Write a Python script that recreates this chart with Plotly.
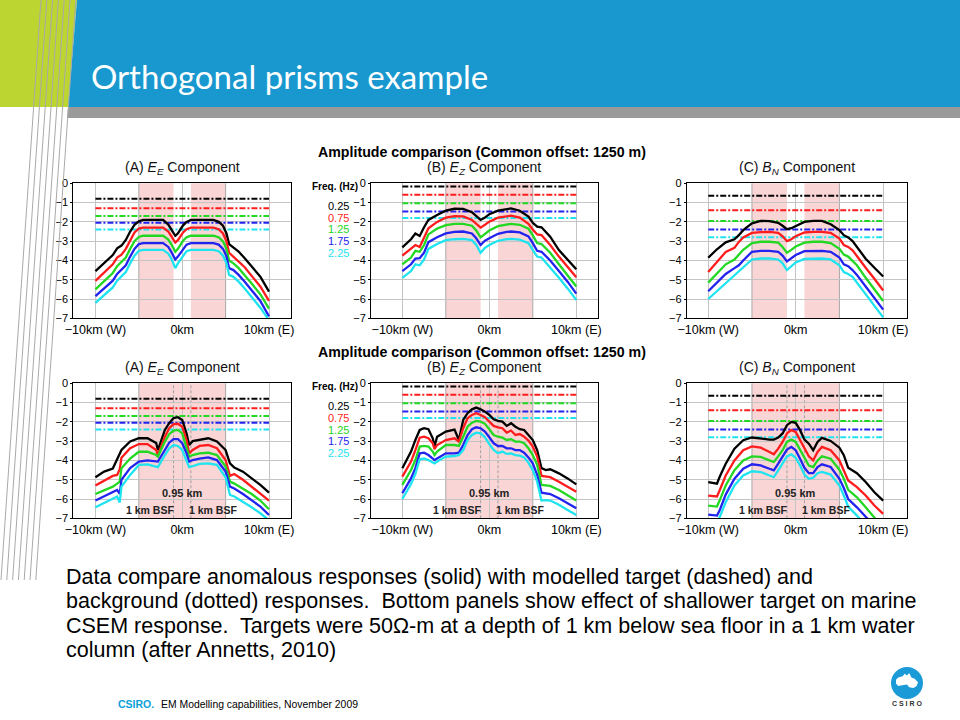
import plotly.graph_objects as go

W, H = 960, 720
FONT = "Liberation Sans, Arial, sans-serif"

FREQS = ["0.25", "0.75", "1.25", "1.75", "2.25"]
COLORS = ["#000000", "#ff1c1c", "#22d822", "#2323f0", "#1ee4f0"]

X_TICKS = [-10, 0, 10]
X_TICK_TEXT = ["\u221210km (W)", "0km", "10km (E)"]
Y_TICKS = [0, -1, -2, -3, -4, -5, -6, -7]
Y_TICK_TEXT = ["0", "\u22121", "\u22122", "\u22123", "\u22124", "\u22125", "\u22126", "\u22127"]

BG_X = [-10, 10]
BG_A = [-0.8, -1.3, -1.7, -2.05, -2.4]
BG_B = [-0.17, -0.6, -1.04, -1.46, -1.8]
BG_C = [-0.65, -1.4, -1.95, -2.4, -2.8]

# ---- Top row (deep targets) ----
X_A_TOP = [-10, -9, -8, -7.5, -7, -6.5, -6, -5.5, -5, -4.5, -2.2, -1.6, -1.2, -0.8, -0.5, -0.2, 0.1, 0.5, 1.0,
           3.6, 4.2, 4.7, 5.1, 5.4, 5.9, 6.5, 7.2, 8, 9, 10]
A_TOP_BLACK = [-4.55, -4.15, -3.72, -3.37, -3.23, -2.94, -2.5, -2.15, -1.97, -1.9, -1.9, -2.14, -2.42, -2.72, -2.6,
               -2.4, -2.18, -2.0, -1.9, -1.9, -2.0, -2.2, -2.6, -3.15, -3.32, -3.54, -3.89, -4.32, -4.84, -5.62]
A_TOP_RED = [-5.06, -4.65, -4.2, -3.85, -3.7, -3.4, -2.95, -2.55, -2.35, -2.3, -2.3, -2.5, -2.78, -3.07, -2.95,
             -2.75, -2.55, -2.38, -2.3, -2.3, -2.38, -2.6, -3.0, -3.6, -3.8, -4.02, -4.35, -4.8, -5.35, -6.1]
A_TOP_GREEN = [-5.5, -5.1, -4.65, -4.3, -4.1, -3.85, -3.4, -3.0, -2.78, -2.72, -2.72, -2.92, -3.2, -3.55, -3.4,
               -3.2, -2.98, -2.8, -2.72, -2.72, -2.8, -3.02, -3.4, -4.0, -4.15, -4.4, -4.75, -5.2, -5.75, -6.5]
A_TOP_BLUE = [-5.85, -5.45, -5.05, -4.7, -4.5, -4.25, -3.8, -3.4, -3.15, -3.1, -3.1, -3.3, -3.6, -3.95, -3.8,
              -3.6, -3.38, -3.18, -3.1, -3.1, -3.18, -3.4, -3.78, -4.4, -4.5, -4.75, -5.1, -5.55, -6.1, -6.9]
A_TOP_CYAN = [-6.2, -5.8, -5.4, -5.05, -4.85, -4.6, -4.15, -3.75, -3.5, -3.45, -3.45, -3.65, -3.95, -4.4, -4.15,
              -3.95, -3.72, -3.52, -3.45, -3.45, -3.52, -3.75, -4.15, -4.75, -4.85, -5.1, -5.45, -5.9, -6.45, -7.1]

X_B_TOP = [-10, -9, -8.5, -8, -7.5, -7, -6, -5, -4, -3, -2, -1.5, -1, -0.5, 0, 1, 2, 2.5, 3.5, 4.5, 5, 5.5, 6,
           7, 8, 9, 10]
B_TOP_BLACK = [-3.32, -2.9, -2.6, -2.73, -2.28, -1.9, -1.64, -1.42, -1.32, -1.33, -1.5, -1.7, -1.9, -1.78, -1.6,
               -1.42, -1.33, -1.3, -1.42, -1.73, -2.05, -2.25, -2.28, -2.77, -3.46, -3.94, -4.46]
B_TOP_RED = [-3.75, -3.4, -3.2, -3.3, -2.77, -2.33, -2.0, -1.78, -1.7, -1.72, -1.9, -2.1, -2.3, -2.15, -1.99,
             -1.78, -1.7, -1.68, -1.78, -2.1, -2.4, -2.65, -2.68, -3.2, -3.8, -4.32, -4.87]
B_TOP_GREEN = [-4.2, -3.85, -3.5, -3.55, -3.2, -2.65, -2.35, -2.17, -2.1, -2.1, -2.2, -2.45, -2.8, -2.6, -2.45,
               -2.22, -2.12, -2.1, -2.15, -2.35, -2.7, -3.1, -3.15, -3.6, -4.2, -4.75, -5.35]
B_TOP_BLUE = [-4.55, -4.2, -3.9, -3.88, -3.6, -3.05, -2.8, -2.6, -2.52, -2.5, -2.6, -2.85, -3.2, -2.98, -2.85,
              -2.62, -2.52, -2.5, -2.55, -2.75, -3.1, -3.5, -3.55, -4.0, -4.55, -5.1, -5.72]
B_TOP_CYAN = [-4.9, -4.55, -4.2, -4.25, -3.95, -3.4, -3.15, -2.95, -2.9, -2.88, -2.95, -3.2, -3.6, -3.35, -3.2,
              -2.98, -2.9, -2.88, -2.92, -3.1, -3.45, -3.8, -3.85, -4.35, -4.9, -5.45, -6.05]

X_C_TOP = [-10, -9, -8, -7, -6.5, -6, -5, -4, -3, -2, -1.5, -1, -0.5, 0, 1, 2, 3, 4, 5, 5.5, 6, 6.5, 7, 8, 9, 10]
C_TOP_BLACK = [-3.86, -3.42, -3.06, -2.9, -2.69, -2.43, -2.08, -1.95, -1.96, -2.05, -2.2, -2.38, -2.33, -2.22,
               -2.0, -1.95, -1.95, -2.12, -2.43, -2.69, -2.81, -3.0, -3.3, -3.91, -4.38, -4.83]
C_TOP_RED = [-4.6, -4.08, -3.56, -3.35, -3.04, -2.81, -2.57, -2.53, -2.52, -2.57, -2.75, -3.0, -2.9, -2.74,
             -2.55, -2.52, -2.52, -2.57, -2.87, -3.2, -3.3, -3.47, -3.79, -4.38, -4.95, -5.56]
C_TOP_GREEN = [-5.15, -4.7, -4.2, -3.95, -3.7, -3.45, -3.1, -3.03, -3.03, -3.08, -3.3, -3.6, -3.45, -3.28,
               -3.08, -3.03, -3.03, -3.1, -3.4, -3.7, -3.8, -4.0, -4.25, -4.9, -5.5, -6.1]
C_TOP_BLUE = [-5.6, -5.15, -4.7, -4.4, -4.25, -4.0, -3.55, -3.5, -3.5, -3.55, -3.75, -4.05, -3.9, -3.72,
              -3.52, -3.5, -3.5, -3.55, -3.85, -4.2, -4.3, -4.5, -4.75, -5.35, -5.95, -6.55]
C_TOP_CYAN = [-6.0, -5.6, -5.15, -4.8, -4.6, -4.35, -3.95, -3.9, -3.9, -3.95, -4.15, -4.5, -4.3, -4.1,
              -3.92, -3.9, -3.9, -3.95, -4.25, -4.6, -4.7, -4.85, -5.15, -5.75, -6.35, -6.95]

# ---- Bottom row (shallower target) ----
X_A_BOT = [-10, -9, -8, -7.5, -7.2, -7, -6, -5, -4, -3, -2.8, -2, -1.5, -1, -0.5, 0, 0.5, 0.8, 1.2, 2, 3, 4,
           5, 5.5, 6, 7, 8, 9, 10]
A_BOT_BLACK = [-4.87, -4.58, -4.42, -3.95, -3.65, -3.46, -3.02, -2.85, -2.85, -3.1, -3.46, -2.42, -2.07, -1.8,
               -1.76, -1.9, -2.6, -3.2, -3.0, -2.95, -2.85, -3.02, -3.46, -4.15, -4.37, -4.58, -4.93, -5.27, -5.67]
A_BOT_RED = [-5.3, -5.05, -4.8, -4.75, -4.45, -3.86, -3.37, -3.15, -3.15, -3.46, -3.72, -2.77, -2.33, -2.12,
             -2.1, -2.25, -2.94, -3.63, -3.46, -3.25, -3.2, -3.37, -3.98, -4.8, -4.7, -5.0, -5.36, -5.7, -6.08]
A_BOT_GREEN = [-5.74, -5.55, -5.36, -5.2, -5.1, -4.4, -3.9, -3.55, -3.55, -3.72, -3.8, -3.02, -2.64, -2.45,
               -2.42, -2.6, -3.28, -3.8, -3.72, -3.63, -3.6, -3.72, -4.32, -5.1, -5.2, -5.45, -5.74, -6.08, -6.53]
A_BOT_BLUE = [-6.08, -5.85, -5.62, -5.53, -5.74, -5.0, -4.4, -4.06, -4.0, -4.06, -4.06, -3.46, -3.08, -2.89,
              -2.89, -3.11, -3.63, -4.06, -3.98, -3.9, -3.84, -3.98, -4.58, -5.36, -5.45, -5.74, -6.05, -6.39, -6.83]
A_BOT_CYAN = [-6.43, -6.2, -6.0, -5.87, -6.18, -5.36, -4.75, -4.23, -4.2, -4.35, -4.35, -3.72, -3.37, -3.2,
              -3.25, -3.46, -3.98, -4.35, -4.3, -4.18, -4.15, -4.23, -4.87, -5.79, -5.87, -6.13, -6.43, -6.74, -7.1]

X_B_BOT = [-10, -9, -8.5, -8, -7.5, -7, -6.5, -6.3, -6, -5, -4, -3.5, -3, -2.5, -2, -1.5, -1, -0.5, 0, 0.5,
           1, 1.5, 2, 2.5, 3, 3.5, 4, 4.5, 5, 5.5, 6, 6.5, 7, 8, 9, 10]
B_BOT_BLACK = [-4.4, -3.54, -2.94, -2.42, -2.33, -2.38, -2.85, -3.28, -2.77, -2.5, -2.4, -2.94, -1.9, -1.55,
               -1.35, -1.26, -1.35, -1.47, -1.64, -1.87, -1.95, -1.99, -2.21, -2.07, -2.25, -2.38, -2.42, -2.68,
               -2.94, -3.46, -4.4, -4.5, -4.46, -4.67, -4.93, -5.24]
B_BOT_RED = [-4.84, -4.06, -3.46, -2.82, -2.77, -2.85, -3.11, -3.42, -3.2, -2.94, -2.85, -3.02, -2.33, -1.81,
             -1.64, -1.55, -1.64, -1.76, -1.99, -2.21, -2.28, -2.33, -2.56, -2.45, -2.68, -2.63, -2.77, -2.97,
             -3.28, -3.8, -4.8, -4.84, -4.87, -5.1, -5.36, -5.62]
B_BOT_GREEN = [-5.27, -4.5, -3.98, -3.28, -3.25, -3.28, -3.54, -3.72, -3.54, -3.2, -3.2, -3.25, -2.77, -2.25,
               -2.04, -1.95, -1.99, -2.1, -2.38, -2.68, -2.77, -2.82, -2.94, -2.9, -3.02, -3.02, -3.11, -3.37,
               -3.72, -4.23, -5.27, -5.3, -5.32, -5.53, -5.79, -6.08]
B_BOT_BLUE = [-5.7, -4.93, -4.4, -3.63, -3.6, -3.72, -3.9, -3.98, -3.9, -3.63, -3.63, -3.6, -3.2, -2.68,
              -2.38, -2.28, -2.33, -2.5, -2.8, -3.11, -3.25, -3.25, -3.37, -3.37, -3.46, -3.46, -3.6, -3.84,
              -4.15, -4.75, -5.67, -5.7, -5.74, -5.96, -6.22, -6.48]
B_BOT_CYAN = [-6.0, -5.22, -4.7, -3.94, -3.9, -3.98, -4.11, -4.15, -4.06, -3.8, -3.77, -3.72, -3.46, -2.94,
              -2.68, -2.56, -2.6, -2.8, -3.15, -3.46, -3.63, -3.54, -3.66, -3.64, -3.72, -3.75, -3.84, -4.11,
              -4.5, -5.1, -6.08, -6.06, -6.08, -6.3, -6.57, -6.83]

X_C_BOT = [-10, -9, -8.7, -8, -7, -6, -5, -4, -3, -2.5, -2, -1.5, -1, -0.5, 0, 0.5, 1, 1.5, 2, 2.5, 3, 4, 5,
           5.5, 6, 7, 8, 9, 10]
C_BOT_BLACK = [-5.12, -5.2, -4.86, -4.17, -3.39, -2.95, -2.81, -2.87, -2.92, -2.92, -2.81, -2.6, -2.17, -2.0,
               -2.05, -2.43, -2.92, -3.13, -3.47, -3.04, -2.83, -2.99, -3.34, -3.73, -4.38, -4.66, -5.12, -5.65, -6.08]
C_BOT_RED = [-5.82, -5.87, -5.56, -4.78, -4.0, -3.47, -3.27, -3.34, -3.56, -3.68, -3.39, -3.04, -2.6, -2.43,
             -2.52, -2.92, -3.39, -3.79, -4.0, -3.56, -3.3, -3.47, -4.0, -4.5, -5.04, -5.38, -5.82, -6.34, -6.77]
C_BOT_GREEN = [-6.34, -6.39, -6.08, -5.3, -4.51, -4.0, -3.79, -3.82, -4.0, -4.08, -3.79, -3.47, -3.04, -2.92,
               -3.04, -3.44, -3.91, -4.26, -4.34, -4.0, -3.79, -3.91, -4.48, -4.95, -5.52, -5.91, -6.43, -6.95, -7.5]
C_BOT_BLUE = [-6.81, -6.86, -6.6, -5.77, -4.95, -4.43, -4.2, -4.26, -4.43, -4.51, -4.17, -3.82, -3.44, -3.3,
              -3.47, -3.91, -4.38, -4.66, -4.66, -4.34, -4.2, -4.34, -4.95, -5.43, -6.0, -6.43, -6.95, -7.47, -7.9]
C_BOT_CYAN = [-7.2, -7.25, -6.95, -6.17, -5.3, -4.78, -4.56, -4.6, -4.78, -4.86, -4.51, -4.17, -3.79, -3.68,
              -3.86, -4.26, -4.73, -4.95, -4.9, -4.66, -4.6, -4.73, -5.3, -5.82, -6.39, -6.86, -7.38, -7.9, -8.4]

# target extents (km)
TOP_TARGETS = [(-5, -1), (1, 5)]
BOT_TARGETS = [(-5, 5)]
BOT_EDGES = [-1, 1]
BSF_LABELS = ["0.95 km", "1 km BSF", "1 km BSF"]

PANEL_TITLES = ["(A) <i>E</i><sub><i>E</i></sub> Component",
                "(B) <i>E</i><sub><i>Z</i></sub> Component",
                "(C) <i>B</i><sub><i>N</i></sub> Component"]
SUPTITLE = "<b>Amplitude comparison (Common offset: 1250 m)</b>"

PANELS = [
    (X_A_TOP, [A_TOP_BLACK, A_TOP_RED, A_TOP_GREEN, A_TOP_BLUE, A_TOP_CYAN], BG_A),
    (X_B_TOP, [B_TOP_BLACK, B_TOP_RED, B_TOP_GREEN, B_TOP_BLUE, B_TOP_CYAN], BG_B),
    (X_C_TOP, [C_TOP_BLACK, C_TOP_RED, C_TOP_GREEN, C_TOP_BLUE, C_TOP_CYAN], BG_C),
    (X_A_BOT, [A_BOT_BLACK, A_BOT_RED, A_BOT_GREEN, A_BOT_BLUE, A_BOT_CYAN], BG_A),
    (X_B_BOT, [B_BOT_BLACK, B_BOT_RED, B_BOT_GREEN, B_BOT_BLUE, B_BOT_CYAN], BG_B),
    (X_C_BOT, [C_BOT_BLACK, C_BOT_RED, C_BOT_GREEN, C_BOT_BLUE, C_BOT_CYAN], BG_C),
]

# ---------------- layout geometry (pixels) ----------------
XDOM = [(73.3, 290.7), (371.0, 597.7), (686.7, 906.7)]
XRANGE = [(-12.55, 12.5), (-13.6, 12.46), (-12.46, 12.69)]
YDOM = [(183.3, 318.3), (383.3, 518.3)]


def px(x):
    return x / W


def py(y):
    return 1 - y / H


fig = go.Figure()
shapes = []
annotations = []
layout = {}

GRID = "#c4c4c4"
PINK = "#f9d5d5"

for i, (xs, curves, bg) in enumerate(PANELS):
    row, col = divmod(i, 3)
    sfx = "" if i == 0 else str(i + 1)
    xa, ya = "x" + sfx, "y" + sfx
    # background / target (dash-dot)
    for j in range(5):
        fig.add_trace(go.Scatter(x=BG_X, y=[bg[j], bg[j]], mode="lines", xaxis=xa, yaxis=ya,
                                 line=dict(color=COLORS[j], width=2, dash="6px,2px,2px,2px"),
                                 showlegend=False, hoverinfo="skip"))
    for j in range(5):
        fig.add_trace(go.Scatter(x=xs, y=curves[j], mode="lines", xaxis=xa, yaxis=ya,
                                 line=dict(color=COLORS[j], width=2.3),
                                 showlegend=False, name=FREQS[j] + " Hz"))
    xl, xr = XDOM[col]
    yt, yb = YDOM[row]
    layout["xaxis" + sfx] = dict(domain=[px(xl), px(xr)], range=list(XRANGE[col]), anchor=ya,
                                 automargin=False,
                                 tickvals=X_TICKS, ticktext=X_TICK_TEXT, showgrid=True, gridcolor=GRID,
                                 gridwidth=1, zeroline=False, showline=True, mirror=True, linecolor="#000",
                                 linewidth=1, ticks="", tickfont=dict(family=FONT, size=12.5, color="#000"))
    layout["yaxis" + sfx] = dict(domain=[py(yb), py(yt)], range=[-7, 0], anchor=xa,
                                 automargin=False,
                                 tickvals=Y_TICKS, ticktext=Y_TICK_TEXT, showgrid=True, gridcolor=GRID,
                                 gridwidth=1, zeroline=False, showline=True, mirror=True, linecolor="#000",
                                 linewidth=1, ticks="outside", ticklen=2, tickcolor="#000",
                                 tickfont=dict(family=FONT, size=11, color="#000"))
    targets = TOP_TARGETS if row == 0 else BOT_TARGETS
    for (a, b) in targets:
        shapes.append(dict(type="rect", xref=xa, yref=ya + " domain", x0=a, x1=b, y0=0, y1=1,
                           fillcolor=PINK, line=dict(width=0), layer="below"))
    for e in (targets[0][0], targets[-1][1]):
        shapes.append(dict(type="line", xref=xa, yref=ya + " domain", x0=e, x1=e, y0=0, y1=1,
                           line=dict(color="#a8a8a8", width=1), layer="below"))
    if row == 1:
        for e in BOT_EDGES:
            shapes.append(dict(type="line", xref=xa, yref=ya + " domain", x0=e, x1=e, y0=0, y1=1,
                               line=dict(color="#a0a0a0", width=1, dash="3px,2px"), layer="below"))
        annotations.append(dict(xref=xa, yref=ya, x=0, y=-5.7, text="<b>" + BSF_LABELS[0] + "</b>",
                                showarrow=False, font=dict(family=FONT, size=11, color="#222")))
        annotations.append(dict(xref=xa, yref=ya, x=-3.7, y=-6.55, text="<b>" + BSF_LABELS[1] + "</b>",
                                showarrow=False, font=dict(family=FONT, size=10.5, color="#222")))
        annotations.append(dict(xref=xa, yref=ya, x=3.5, y=-6.55, text="<b>" + BSF_LABELS[2] + "</b>",
                                showarrow=False, font=dict(family=FONT, size=10.5, color="#222")))
    # panel title
    annotations.append(dict(xref="paper", yref="paper", x=px((xl + xr) / 2), y=py(yt - 15),
                            text=PANEL_TITLES[col], showarrow=False, xanchor="center", yanchor="middle",
                            font=dict(family=FONT, size=14, color="#111")))

# suptitles and frequency legend
for r, yt in enumerate([YDOM[0][0], YDOM[1][0]]):
    annotations.append(dict(xref="paper", yref="paper", x=px(482), y=py(yt - 31), text=SUPTITLE,
                            showarrow=False, xanchor="center", yanchor="middle",
                            font=dict(family=FONT, size=14.2, color="#000")))
    annotations.append(dict(xref="paper", yref="paper", x=px(335), y=py(yt + 3.5), text="<b>Freq. (Hz)</b>",
                            showarrow=False, xanchor="center", yanchor="middle",
                            font=dict(family=FONT, size=10, color="#000")))
    for j in range(5):
        annotations.append(dict(xref="paper", yref="paper", x=px(351), y=py(yt + 23 + 11.6 * j),
                                text=FREQS[j], showarrow=False, xanchor="right", yanchor="middle",
                                font=dict(family=FONT, size=11, color=COLORS[j])))

# ---------------- slide decoration ----------------
def path(points):
    s = "M " + " L ".join("{:.5f},{:.5f}".format(px(x), py(y)) for x, y in points) + " Z"
    return s


shapes.append(dict(type="path", xref="paper", yref="paper",
                   path=path([(0, 0), (77, 0), (68, 107), (0, 107)]),
                   fillcolor="#bcd531", line=dict(width=0), layer="above"))
shapes.append(dict(type="path", xref="paper", yref="paper",
                   path=path([(77, 0), (960, 0), (960, 107), (68, 107)]),
                   fillcolor="#1898cf", line=dict(width=0), layer="above"))
shapes.append(dict(type="path", xref="paper", yref="paper",
                   path=path([(68, 107), (960, 107), (960, 118), (67, 118)]),
                   fillcolor="#9a9a9a", line=dict(width=0), layer="above"))
for k in range(7):
    x0 = 41 + 5.8 * k
    shapes.append(dict(type="line", xref="paper", yref="paper", x0=px(x0), y0=py(0),
                       x1=px(x0 - 40), y1=py(580), line=dict(color="#a9a9a9", width=1), layer="above"))

annotations.append(dict(xref="paper", yref="paper", x=px(89), y=py(76), text="Orthogonal prisms example",
                        showarrow=False, xanchor="left", yanchor="middle",
                        font=dict(family="Lato, Open Sans, sans-serif", size=33, color="#ffffff")))

PARAGRAPH = [
    "Data compare anomalous responses (solid) with modelled target (dashed) and",
    "background (dotted) responses.\u00a0 Bottom panels show effect of shallower target on marine",
    "CSEM response.\u00a0 Targets were 50\u03a9-m at a depth of 1 km below sea floor in a 1 km water",
    "column (after Annetts, 2010)",
]
for k, line in enumerate(PARAGRAPH):
    annotations.append(dict(xref="paper", yref="paper", x=px(64), y=py(577 + 24.4 * k), text=line,
                            showarrow=False, xanchor="left", yanchor="middle",
                            font=dict(family=FONT, size=21.5, color="#000")))

annotations.append(dict(xref="paper", yref="paper", x=px(116), y=py(704), text="<b>CSIRO.</b>",
                        showarrow=False, xanchor="left", yanchor="middle",
                        font=dict(family=FONT, size=10.5, color="#0a9fd8")))
annotations.append(dict(xref="paper", yref="paper", x=px(159), y=py(704),
                        text="EM Modelling capabilities, November 2009",
                        showarrow=False, xanchor="left", yanchor="middle",
                        font=dict(family=FONT, size=10.4, color="#000")))

# CSIRO logo
shapes.append(dict(type="circle", xref="paper", yref="paper", x0=px(891), x1=px(923), y0=py(699), y1=py(667),
                   fillcolor="#1a9ad6", line=dict(width=0), layer="above"))
AUS = [(0.0, 0.45), (0.1, 0.3), (0.3, 0.22), (0.4, 0.05), (0.5, 0.16), (0.6, 0.0), (0.7, 0.3), (0.85, 0.38),
       (1.0, 0.62), (0.95, 0.85), (0.8, 1.0), (0.6, 0.95), (0.5, 0.76), (0.35, 0.8), (0.1, 0.86), (0.0, 0.7)]
shapes.append(dict(type="path", xref="paper", yref="paper",
                   path=path([(896 + 22 * a, 673 + 15 * b) for a, b in AUS]),
                   fillcolor="#ffffff", line=dict(width=0), layer="above"))
annotations.append(dict(xref="paper", yref="paper", x=px(907), y=py(703), text="<b>C S I R O</b>",
                        showarrow=False, xanchor="center", yanchor="middle",
                        font=dict(family=FONT, size=7, color="#333")))

fig.update_layout(width=W, height=H, autosize=False,
                  margin=dict(l=0, r=0, t=0, b=0, pad=0, autoexpand=False),
                  paper_bgcolor="#ffffff", plot_bgcolor="#ffffff", showlegend=False,
                  shapes=shapes, annotations=annotations, **layout)

fig.write_html("out.html")
